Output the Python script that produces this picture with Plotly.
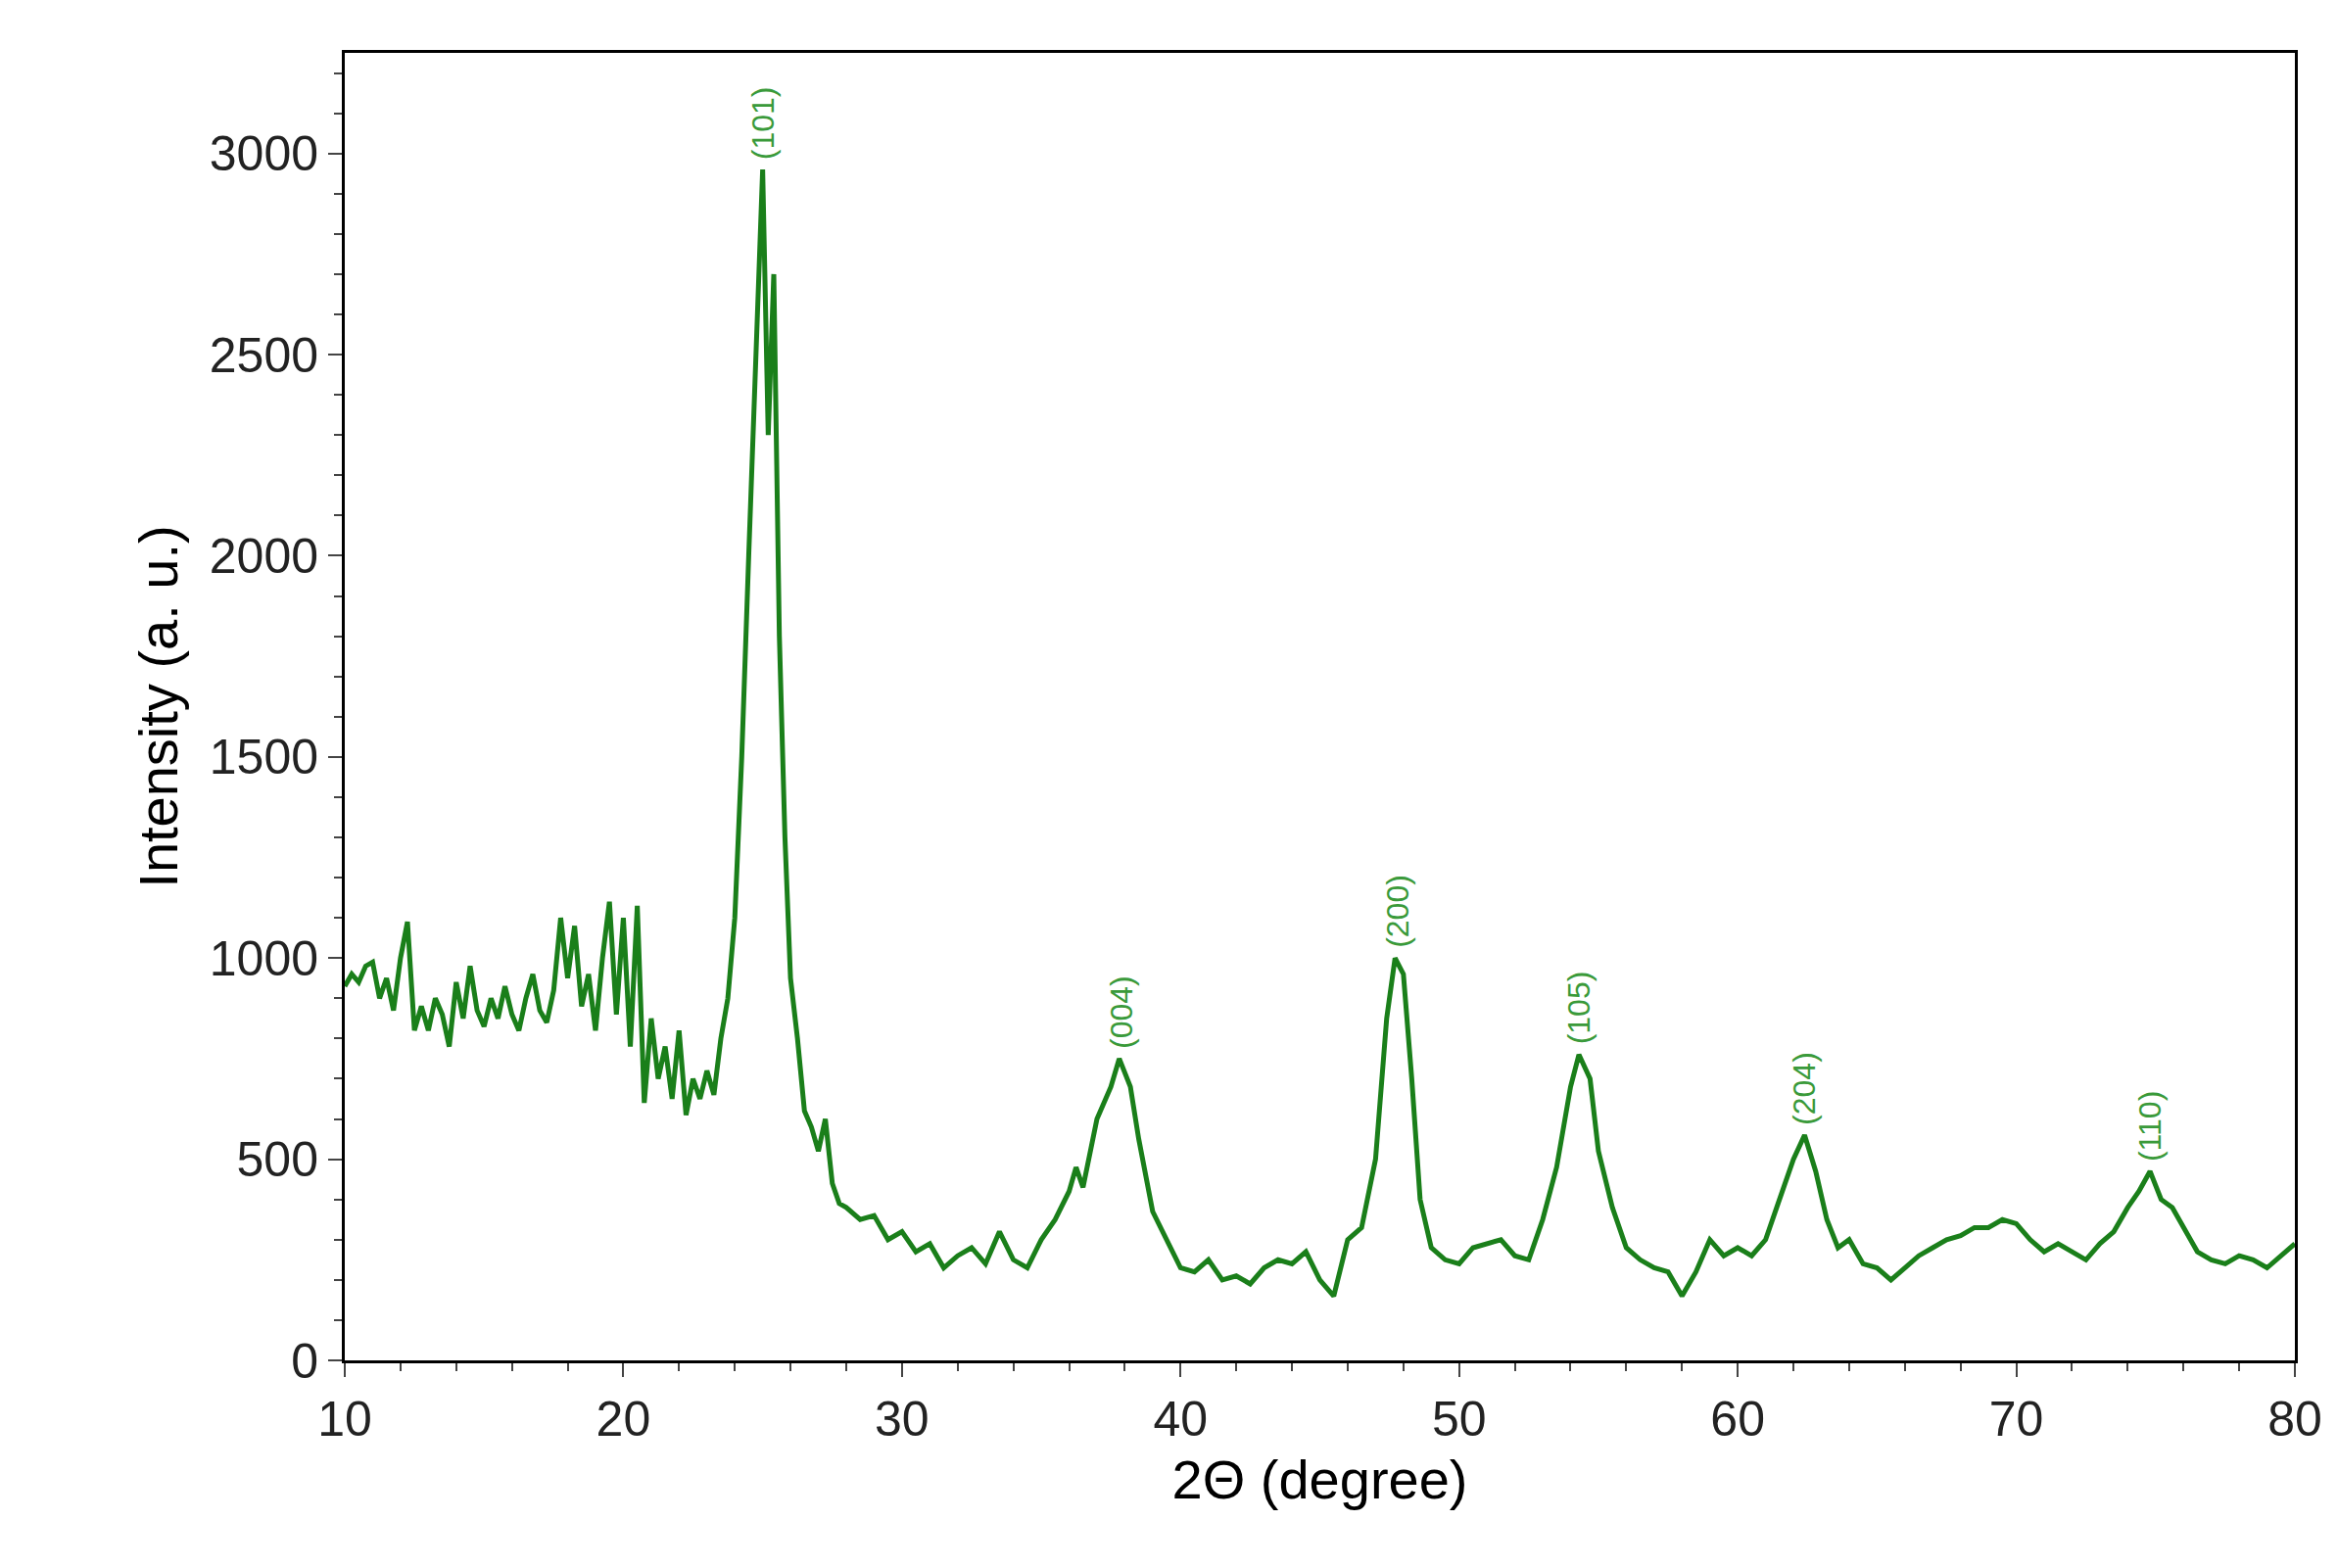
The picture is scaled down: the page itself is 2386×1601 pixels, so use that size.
import plotly.graph_objects as go

two_theta = [10,10.25,10.5,10.75,11,11.25,11.5,11.75,12,12.25,12.5,12.75,13,13.25,13.5,13.75,14,14.25,14.5,14.75,15,15.25,15.5,15.75,16,16.25,16.5,16.75,17,17.25,17.5,17.75,18,18.25,18.5,18.75,19,19.25,19.5,19.75,20,20.25,20.5,20.75,21,21.25,21.5,21.75,22,22.25,22.5,22.75,23,23.25,23.5,23.75,24,24.25,24.5,24.75,25,25.2,25.4,25.6,25.8,26,26.25,26.5,26.75,27,27.25,27.5,27.75,28,28.5,29,29.5,30,30.5,31,31.5,32,32.5,33,33.5,34,34.5,35,35.5,36,36.25,36.5,37,37.5,37.8,38.2,38.5,39,39.5,40,40.5,41,41.5,42,42.5,43,43.5,44,44.5,45,45.5,46,46.5,47,47.4,47.7,48,48.3,48.6,49,49.5,50,50.5,51,51.5,52,52.5,53,53.5,54,54.3,54.7,55,55.5,56,56.5,57,57.5,58,58.5,59,59.5,60,60.5,61,61.5,62,62.4,62.8,63.2,63.6,64,64.5,65,65.5,66,66.5,67,67.5,68,68.5,69,69.5,70,70.5,71,71.5,72,72.5,73,73.5,74,74.4,74.8,75.2,75.6,76,76.5,77,77.5,78,78.5,79,79.5,80]
intensity = [930,960,940,980,990,900,950,870,1000,1090,820,880,820,900,860,780,940,850,980,870,830,900,850,930,860,820,900,960,870,840,920,1100,950,1080,880,960,820,1000,1140,860,1100,780,1130,640,850,700,780,650,820,610,700,650,720,660,800,900,1100,1500,2000,2500,2960,2300,2700,1800,1300,950,800,620,580,520,600,440,390,380,350,360,300,320,270,290,230,260,280,240,320,250,230,300,350,420,480,430,600,680,750,680,550,370,300,230,220,250,200,210,190,230,250,240,270,200,160,300,330,500,850,1000,960,700,400,280,250,240,280,290,300,260,250,350,480,680,760,700,520,380,280,250,230,220,160,220,300,260,280,260,300,400,500,560,470,350,280,300,240,230,200,230,260,280,300,310,330,330,350,340,300,270,290,270,250,290,320,380,420,470,400,380,330,270,250,240,260,250,230,260,290]

peak_labels = ["(101)","(004)","(200)","(105)","(204)","(110)"]
peak_x = [25.0,37.9,47.8,54.3,62.4,74.8]
peak_y = [2960,750,1000,760,560,470]

green = "#1a7f1a"
fig = go.Figure(go.Scatter(x=two_theta, y=intensity, mode="lines",
                           line=dict(color=green, width=5)))
for lab, px, py in zip(peak_labels, peak_x, peak_y):
    fig.add_annotation(x=px, y=py, text=lab, textangle=-90, showarrow=False,
                       yanchor="bottom", yshift=8, font=dict(color="#3a9a3a", size=32))

axis_common = dict(showline=True, linecolor="black", linewidth=3, mirror=True,
                   ticks="outside", ticklen=14, tickwidth=2, showgrid=False, zeroline=False,
                   tickfont=dict(size=50, color="#222"),
                   minor=dict(ticks="outside", ticklen=8, tickwidth=2))
fig.update_xaxes(range=[10,80], dtick=10, title=dict(text="2Θ (degree)", font=dict(size=56)), **axis_common)
fig.update_yaxes(range=[0,3250], dtick=500, title=dict(text="Intensity (a. u.)", font=dict(size=56)), **axis_common)
fig.update_layout(width=2386, height=1601, plot_bgcolor="white", paper_bgcolor="white",
                  font=dict(family="Liberation Sans, Arial", color="black"),
                  margin=dict(l=344, r=51, t=46, b=220), showlegend=False)
fig.write_html("out.html")
